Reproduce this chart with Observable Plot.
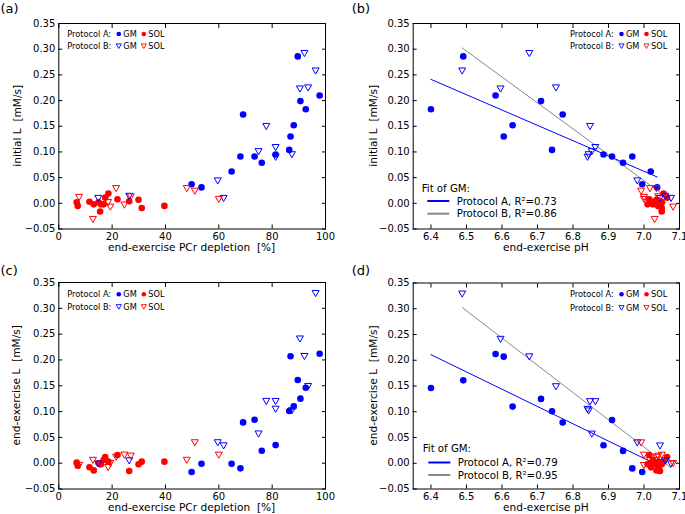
<!DOCTYPE html>
<html>
<head>
<meta charset="utf-8">
<script src="https://cdn.jsdelivr.net/npm/d3@7"></script>
<script src="https://cdn.jsdelivr.net/npm/@observablehq/plot@0.6"></script>
<style>
  body { margin: 0; background: #fff; }
  #fig { position: relative; width: 685px; height: 514px; overflow: hidden; font-family: "DejaVu Sans", sans-serif; }
  #fig svg { position: absolute; }
  #fig text.pre { white-space: pre; }
</style>
</head>
<body>
<div id="fig"></div>
<script>
// ---------- Data (one entry per muscle measurement) ----------
// Protocol A, GM  (filled blue circles)
const gmA_pcr   = [49.8, 53.5, 64.8, 68.1, 69.1, 73.4, 76.1, 81.3, 86.4, 86.9, 88.1, 89.6, 90.6, 92.6, 97.8];
const gmA_ph    = [6.995, 7.037, 7.019, 6.967, 6.771, 6.910, 6.941, 6.886, 6.741, 6.605, 6.630, 6.491, 6.710, 6.400, 6.582];
const gmA_lInit = [0.037, 0.031, 0.062, 0.091, 0.173, 0.091, 0.079, 0.095, 0.104, 0.130, 0.152, 0.286, 0.199, 0.183, 0.210];
const gmA_lEnd  = [-0.017, -0.001, -0.001, -0.010, 0.079, 0.084, 0.024, 0.035, 0.101, 0.207, 0.110, 0.161, 0.125, 0.146, 0.212];

// Protocol A, SOL (filled red circles)
const solA_pcr   = [6.7, 7.1, 11.5, 13.1, 14.9, 15.5, 15.8, 16.8, 17.4, 18.6, 22.0, 26.4, 29.9, 31.1, 39.6];
const solA_ph    = [7.050, 7.040, 7.020, 7.035, 7.030, 7.050, 7.010, 7.025, 7.065, 7.055, 7.015, 7.045, 7.035, 7.050, 7.040];
const solA_lInit = [0.002, -0.005, 0.003, -0.002, 0.002, -0.016, -0.002, -0.002, 0.011, 0.019, 0.008, 0.004, 0.007, -0.009, -0.005];
const solA_lEnd  = [0.001, -0.005, -0.008, -0.014, 0.000, -0.002, -0.002, 0.006, 0.012, 0.003, 0.016, -0.015, -0.002, 0.003, 0.003];

// Protocol B, GM  (open blue down-triangles)
const gmB_pcr   = [14.8, 26.4, 59.6, 61.8, 74.9, 77.8, 81.3, 81.3, 87.4, 90.4, 92.1, 93.5, 96.3];
const gmB_ph    = [7.076, 7.060, 6.981, 7.045, 6.853, 6.848, 6.863, 6.841, 6.844, 6.596, 6.677, 6.752, 6.488];
const gmB_lInit = [0.010, 0.014, 0.044, 0.010, 0.101, 0.150, 0.109, 0.090, 0.095, 0.223, 0.292, 0.225, 0.258];
const gmB_lEnd  = [-0.001, 0.005, 0.040, 0.034, 0.057, 0.120, 0.120, 0.105, 0.102, 0.241, 0.207, 0.149, 0.329];

// Protocol B, SOL (open red down-triangles)
const solB_pcr   = [7.6, 12.8, 18.5, 19.3, 21.5, 24.6, 27.0, 48.0, 51.0, 60.0];
const solB_ph    = [7.000, 7.030, 7.045, 7.082, 7.035, 7.050, 7.040, 7.017, 6.992, 7.000];
const solB_lInit = [0.012, -0.031, 0.002, -0.007, 0.029, -0.003, 0.013, 0.029, 0.024, 0.008];
const solB_lEnd  = [-0.004, 0.006, -0.008, 0.000, 0.012, 0.016, 0.014, 0.006, 0.040, 0.016];

// Tick values
const yTicks   = [-0.05, 0.00, 0.05, 0.10, 0.15, 0.20, 0.25, 0.30, 0.35];
const pcrTicks = [0, 20, 40, 60, 80, 100];
const phTicks  = [6.4, 6.5, 6.6, 6.7, 6.8, 6.9, 7.0, 7.1];

// Fit legend R² values
const r2Init = {A: "0.73", B: "0.86"};
const r2End  = {A: "0.79", B: "0.95"};

// ---------- Build tables ----------
const rows = (pcr, ph, li, le) => pcr.map((p, i) => ({pcr: p, ph: ph[i], li: li[i], le: le[i]}));
const gmA  = rows(gmA_pcr, gmA_ph, gmA_lInit, gmA_lEnd);
const solA = rows(solA_pcr, solA_ph, solA_lInit, solA_lEnd);
const gmB  = rows(gmB_pcr, gmB_ph, gmB_lInit, gmB_lEnd);
const solB = rows(solB_pcr, solB_ph, solB_lInit, solB_lEnd);

const BLUE = "#0000ff", RED = "#ff0000", GRAY = "#888888";
const FONT = "DejaVu Sans";

function triDraw(ctx, s) {
  ctx.moveTo(-s, -s * 0.8);
  ctx.lineTo(s, -s * 0.8);
  ctx.lineTo(0, s * 0.95);
  ctx.closePath();
}
const triDown = { draw(ctx, size) { triDraw(ctx, Math.sqrt(size) * 0.6); } };

const fig = document.getElementById("fig");

function panel(cfg) {
  const fmtY = d3.format(".2f");
  const svg = Plot.plot({
    width: cfg.width, height: cfg.height,
    marginTop: cfg.mt, marginBottom: cfg.mb, marginLeft: cfg.ml, marginRight: cfg.mr,
    x: {domain: cfg.xDomain},
    y: {domain: [-0.05, 0.35]},
    style: {fontFamily: FONT, fontSize: "10px", background: "transparent", overflow: "visible", color: "black"},
    marks: [
      Plot.axisY(yTicks, {anchor: "left", tickSize: -4, tickPadding: 7.5, tickFormat: fmtY, label: null, fontSize: 10}),
      Plot.axisY(yTicks, {anchor: "right", tickSize: -4, tickFormat: () => "", label: null}),
      Plot.axisX(cfg.xTicks, {anchor: "bottom", tickSize: -4, tickPadding: 8, tickFormat: cfg.xFmt, label: null, fontSize: 10}),
      Plot.axisX(cfg.xTicks, {anchor: "top", tickSize: -4, tickFormat: () => "", label: null}),
      ...(cfg.fit ? [
        Plot.linearRegressionY(gmA, {x: cfg.xKey, y: cfg.yKey, stroke: BLUE, strokeWidth: 1, ci: 0}),
        Plot.linearRegressionY(gmB, {x: cfg.xKey, y: cfg.yKey, stroke: GRAY, strokeWidth: 1, ci: 0})
      ] : []),
      Plot.dot(gmA,  {x: cfg.xKey, y: cfg.yKey, r: 3.3, fill: BLUE}),
      Plot.dot(solA, {x: cfg.xKey, y: cfg.yKey, r: 3.3, fill: RED}),
      Plot.dot(gmB,  {x: cfg.xKey, y: cfg.yKey, r: 3.3, symbol: triDown, fill: "none", stroke: BLUE, strokeWidth: 1}),
      Plot.dot(solB, {x: cfg.xKey, y: cfg.yKey, r: 3.3, symbol: triDown, fill: "none", stroke: RED, strokeWidth: 1}),
      Plot.frame({stroke: "black", strokeWidth: 1})
    ]
  });
  svg.style.left = cfg.left + "px";
  svg.style.top = cfg.top + "px";
  fig.appendChild(svg);

  const g = d3.select(svg).append("g").attr("font-family", FONT).attr("fill", "black").attr("text-anchor", "start");
  const fL = cfg.ml, fR = cfg.width - cfg.mr, fT = cfg.mt, fB = cfg.height - cfg.mb;

  // panel letter
  g.append("text").attr("x", cfg.letterX).attr("y", cfg.letterY).attr("font-size", 13).text(cfg.letter);
  // x label
  g.append("text").attr("class", "pre").attr("x", (fL + fR) / 2).attr("y", fB + 18.5).attr("dy", "0.35em")
    .attr("text-anchor", "middle").attr("font-size", 10.6).text(cfg.xLabel);
  // y label
  g.append("text").attr("class", "pre").attr("transform", `translate(${fL - cfg.yLabOff},${(fT + fB) / 2}) rotate(-90)`)
    .attr("dy", "0.35em").attr("text-anchor", "middle").attr("font-size", 10.6).text(cfg.yLabel);

  // symbol legend
  const L = cfg.legend, lg = g.append("g").attr("font-size", 8.2);
  const rowsL = [
    {y: L.y1, t: "Protocol A:", tri: false},
    {y: L.y2, t: "Protocol B:", tri: true}
  ];
  for (const r of rowsL) {
    lg.append("text").attr("x", L.x).attr("y", r.y).attr("dy", "0.35em").text(r.t);
    [[51.5, BLUE, 56, "GM"], [76.5, RED, 81, "SOL"]].forEach(([dx, col, tx, lab]) => {
      if (r.tri) {
        const p = d3.path(); triDraw(p, 2.6);
        lg.append("path").attr("d", p.toString()).attr("transform", `translate(${L.x + dx},${r.y})`)
          .attr("fill", "none").attr("stroke", col).attr("stroke-width", 0.9);
      } else {
        lg.append("circle").attr("cx", L.x + dx).attr("cy", r.y).attr("r", 2.3).attr("fill", col);
      }
      lg.append("text").attr("x", L.x + tx).attr("y", r.y).attr("dy", "0.35em").text(lab);
    });
  }

  // fit legend
  if (cfg.fit) {
    const F = cfg.fit, fg = g.append("g").attr("font-size", 10.2);
    fg.append("text").attr("x", F.x).attr("y", F.y0).attr("dy", "0.35em").text("Fit of GM:");
    [[F.y1, BLUE, "Protocol A, R\u00b2=" + F.r2.A], [F.y2, GRAY, "Protocol B, R\u00b2=" + F.r2.B]].forEach(([y, col, t]) => {
      fg.append("line").attr("x1", F.x + 5.6).attr("x2", F.x + 27.6).attr("y1", y).attr("y2", y)
        .attr("stroke", col).attr("stroke-width", 2);
      fg.append("text").attr("x", F.x + 35).attr("y", y).attr("dy", "0.35em").text(t);
    });
  }
}

const pcrFmt = d3.format("d"), phFmt = d3.format(".1f");

panel({letter: "(a)", letterX: 0.5, letterY: 12.5, left: 0, top: 0, width: 345, height: 260,
  mt: 23, mb: 31.5, ml: 58.3, mr: 20, xKey: "pcr", yKey: "li", xDomain: [0, 100], xTicks: pcrTicks, xFmt: pcrFmt,
  xLabel: "end-exercise PCr depletion  [%]", yLabel: "initial L  [mM/s]", yLabOff: 41.3,
  legend: {x: 67.3, y1: 34, y2: 46}});

panel({letter: "(b)", letterX: 11.7, letterY: 12.5, left: 340, top: 0, width: 345, height: 260,
  mt: 23, mb: 31.5, ml: 72.7, mr: 6, xKey: "ph", yKey: "li", xDomain: [6.35, 7.1], xTicks: phTicks, xFmt: phFmt,
  xLabel: "end-exercise pH", yLabel: "initial L  [mM/s]", yLabOff: 39.4,
  legend: {x: 230, y1: 34, y2: 46},
  fit: {x: 81.7, y0: 188.3, y1: 201, y2: 213.7, r2: r2Init}});

panel({letter: "(c)", letterX: 0.5, letterY: 17.5, left: 0, top: 257, width: 345, height: 257,
  mt: 25, mb: 25.5, ml: 58.3, mr: 20, xKey: "pcr", yKey: "le", xDomain: [0, 100], xTicks: pcrTicks, xFmt: pcrFmt,
  xLabel: "end-exercise PCr depletion  [%]", yLabel: "end-exercise L  [mM/s]", yLabOff: 41.6,
  legend: {x: 67.3, y1: 37.3, y2: 49.7}});

panel({letter: "(d)", letterX: 11.7, letterY: 17.5, left: 340, top: 257, width: 345, height: 257,
  mt: 25.5, mb: 25.5, ml: 72.7, mr: 6, xKey: "ph", yKey: "le", xDomain: [6.35, 7.1], xTicks: phTicks, xFmt: phFmt,
  xLabel: "end-exercise pH", yLabel: "end-exercise L  [mM/s]", yLabOff: 39.4,
  legend: {x: 230, y1: 37.3, y2: 50.7},
  fit: {x: 82.7, y0: 191.3, y1: 205.5, y2: 218, r2: r2End}});
</script>
</body>
</html>
